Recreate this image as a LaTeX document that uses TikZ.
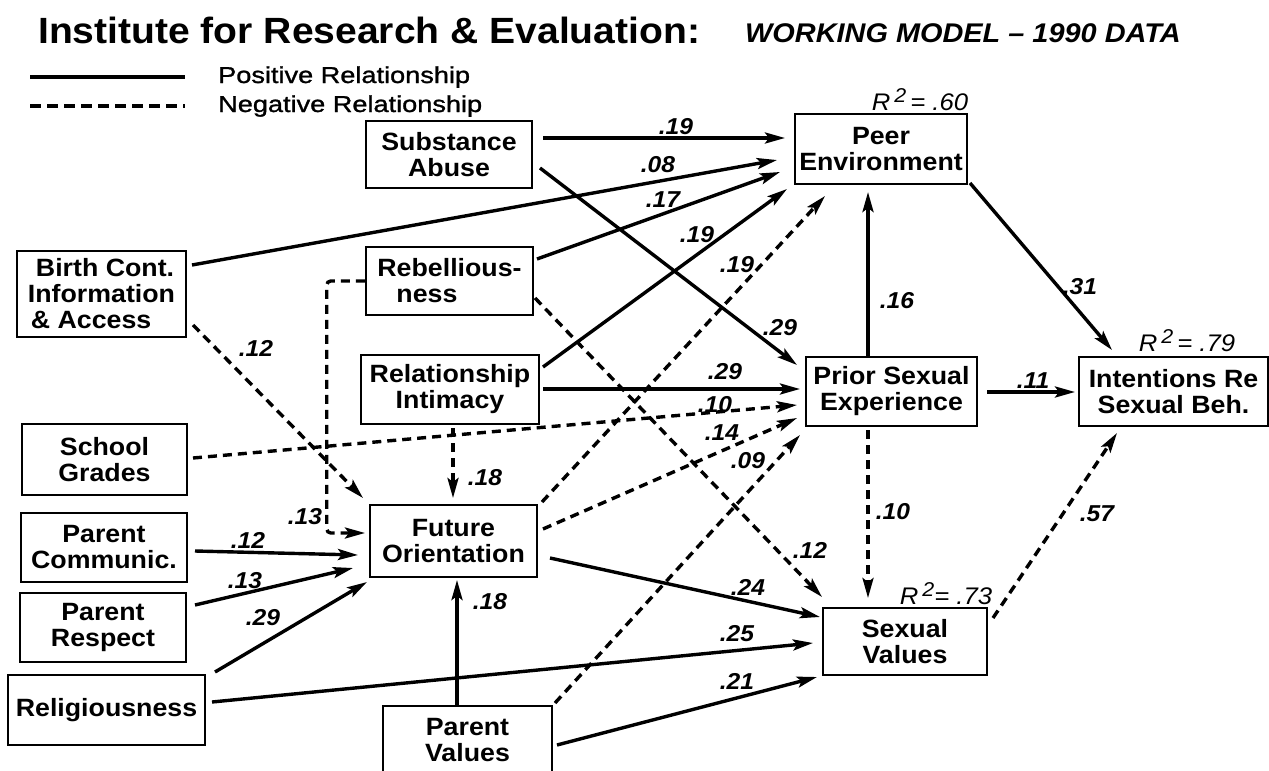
\documentclass[tikz,border=0pt]{standalone}
\usepackage{fontspec}
\usetikzlibrary{arrows.meta,calc}
\newfontfamily\lsans{Liberation Sans}[FakeStretch=1.07]
\newfontfamily\lsanslg{Liberation Sans}[FakeStretch=1.18, FakeBold=1.2]
\begin{document}
\begin{tikzpicture}[x=1pt,y=-1pt,
 box/.style={draw, line width=2.5pt, inner sep=0pt, align=center, font=\lsans\bfseries\fontsize{25}{26}\selectfont},
 posarrow/.style={line width=3.4pt, -{Stealth[length=20pt,width=11pt,inset=4pt]}},
 negarrow/.style={posarrow, dash pattern=on 9pt off 6pt},
 lab/.style={font=\lsans\bfseries\itshape\fontsize{23}{23}\selectfont, inner sep=0pt},
 rsq/.style={font=\lsans\itshape\fontsize{24}{24}\selectfont, inner sep=0pt}]
\useasboundingbox (0,0) rectangle (1269,771);

% title and legend
\node[anchor=base west, inner sep=0pt, font=\lsans\bfseries\fontsize{36.5}{40}\selectfont] (title) at (38,43) {Institute for Research \& Evaluation:};
\node[anchor=base west, inner sep=0pt, font=\lsans\bfseries\itshape\fontsize{27}{30}\selectfont] (sub) at (745,42) {WORKING MODEL \textendash\ 1990 DATA};
\coordinate (ls1) at (30,77); \coordinate (ls2) at (185,77);
\coordinate (ln1) at (30,106); \coordinate (ln2) at (185,106);
\draw[line width=3.4pt] (ls1) -- (ls2);
\draw[line width=3.4pt, dash pattern=on 11pt off 6pt] (ln1) -- (ln2);
\node[anchor=base west, inner sep=0pt, font=\lsanslg\fontsize{23}{24}\selectfont] (lp) at (218,83) {Positive Relationship};
\node[anchor=base west, inner sep=0pt, font=\lsanslg\fontsize{23}{24}\selectfont] (lnn) at (218,112) {Negative Relationship};

% boxes
\node[box, minimum width=166pt, minimum height=67pt] (sa) at (449,154.5) {Substance\\Abuse};
\node[box, minimum width=172pt, minimum height=70pt] (pe) at (881,149) {Peer\\Environment};
\node[box, minimum width=169pt, minimum height=86pt, align=left] (bc) at (101.5,294) {\hspace*{8pt}Birth Cont.\\Information\\\hspace*{3pt}\& Access};
\node[box, minimum width=167pt, minimum height=68pt, align=left] (rb) at (449.5,281) {Rebellious-\\\hspace*{19pt}ness};
\node[box, minimum width=178pt, minimum height=69pt] (ri) at (450,389.5) {Relationship\\Intimacy};
\node[box, minimum width=171pt, minimum height=69pt] (ps) at (891.5,391.5) {Prior Sexual\\Experience};
\node[box, minimum width=189pt, minimum height=69pt] (in) at (1173.5,391.5) {Intentions Re\\Sexual Beh.};
\node[box, minimum width=165pt, minimum height=71pt] (sg) at (104.5,459.5) {School\\Grades};
\node[box, minimum width=167pt, minimum height=72pt] (fo) at (453.5,541) {Future\\Orientation};
\node[box, minimum width=166pt, minimum height=69pt] (pc) at (104,547.5) {Parent\\Communic.};
\node[box, minimum width=166pt, minimum height=69pt] (pr) at (103,627.5) {Parent\\Respect};
\node[box, minimum width=197pt, minimum height=70pt] (re) at (106.5,710) {Religiousness};
\node[box, minimum width=169pt, minimum height=68pt] (pv) at (467.5,740) {Parent\\Values};
\node[box, minimum width=164pt, minimum height=67pt] (sv) at (905,641.5) {Sexual\\Values};

% R squared
\node[rsq] (r60) at (920,100) {R\,\raisebox{8pt}{\fontsize{20}{20}\selectfont 2}\,= .60};
\node[rsq] (r79) at (1187,341) {R\,\raisebox{8pt}{\fontsize{20}{20}\selectfont 2}\,= .79};
\node[rsq] (r73) at (946,594) {R\,\raisebox{8pt}{\fontsize{20}{20}\selectfont 2}= .73};

% connectors
\draw[posarrow] ($(sa)+(94,-16.5)$) -- ($(pe)+(-96,-11)$);
\draw[posarrow] ($(bc)+(90.5,-29)$) -- ($(pe)+(-104,11)$);
\draw[posarrow] ($(rb)+(87.5,-22)$) -- ($(pe)+(-101,23)$);
\draw[posarrow] ($(ri)+(93,-22.5)$) -- ($(pe)+(-94,40)$);
\draw[negarrow] ($(fo)+(88.5,-39)$) -- ($(pe)+(-56,47)$);
\draw[posarrow] ($(sa)+(91,13.5)$) -- ($(ps)+(-94.5,-26.5)$);
\draw[posarrow] ($(ri)+(93,-0.5)$) -- ($(ps)+(-91.5,-2.5)$);
\draw[negarrow] ($(sg)+(88.5,-1.5)$) -- ($(ps)+(-94.5,13.5)$);
\draw[negarrow] ($(fo)+(89.5,-12)$) -- ($(ps)+(-94.5,26.5)$);
\draw[negarrow] ($(pv)+(87.5,-37)$) -- ($(ps)+(-91.5,43.5)$);
\draw[negarrow] ($(rb)+(85.5,17)$) -- ($(sv)+(-83,-44.5)$);
\draw[posarrow] ($(ps)+(-23.5,-34.5)$) -- ($(pe)+(-13,43)$);
\draw[posarrow] ($(pe)+(89,34)$) -- ($(in)+(-61.5,-41.5)$);
\draw[posarrow] ($(ps)+(95.5,0.5)$) -- ($(in)+(-98.5,0.5)$);
\draw[negarrow] ($(ps)+(-23.5,38.5)$) -- ($(sv)+(-37,-43.5)$);
\draw[negarrow] ($(sv)+(88,-23.5)$) -- ($(in)+(-56.5,41.5)$);
\draw[posarrow] ($(fo)+(96.5,17)$) -- ($(sv)+(-85,-24.5)$);
\draw[posarrow] ($(re)+(105.5,-8)$) -- ($(sv)+(-92,1.5)$);
\draw[posarrow] ($(pv)+(89.5,5)$) -- ($(sv)+(-88,35.5)$);
\draw[posarrow] ($(pv)+(-10.5,-34)$) -- ($(fo)+(3.5,39)$);
\draw[negarrow] ($(ri)+(3,38.5)$) -- ($(fo)+(-0.5,-43)$);
\draw[negarrow] ($(bc)+(91.5,31)$) -- ($(fo)+(-90.5,-43)$);
\draw[negarrow, rounded corners=4pt] (rb.west) -- ++(-38,0) |- ($(fo)+(-88.5,-8)$);
\draw[posarrow] ($(pc)+(91,3.5)$) -- ($(fo)+(-95.5,14)$);
\draw[posarrow] ($(pr)+(92,-22.5)$) -- ($(fo)+(-100.5,27)$);
\draw[posarrow] ($(re)+(108.5,-38)$) -- ($(fo)+(-86.5,41)$);

% labels
\node[lab] (l1) at (676,127) {.19};
\node[lab] (l2) at (658,165) {.08};
\node[lab] (l3) at (663,200) {.17};
\node[lab] (l4) at (697,235) {.19};
\node[lab] (l5) at (737,265) {.19};
\node[lab] (l6) at (780,328) {.29};
\node[lab] (l7) at (897,301) {.16};
\node[lab] (l8) at (1080,287) {.31};
\node[lab] (l9) at (725,372) {.29};
\node[lab] (l10) at (715,405) {.10};
\node[lab] (l11) at (722,433) {.14};
\node[lab] (l12) at (748,461) {.09};
\node[lab] (l13) at (1033,381) {.11};
\node[lab] (l14) at (256,348) {.12};
\node[lab] (l15) at (485,478) {.18};
\node[lab] (l16) at (305,517) {.13};
\node[lab] (l17) at (248,540) {.12};
\node[lab] (l18) at (245,581) {.13};
\node[lab] (l19) at (263,618) {.29};
\node[lab] (l20) at (490,602) {.18};
\node[lab] (l21) at (893,512) {.10};
\node[lab] (l22) at (1097,514) {.57};
\node[lab] (l23) at (810,550) {.12};
\node[lab] (l24) at (748,587) {.24};
\node[lab] (l25) at (737,634) {.25};
\node[lab] (l26) at (737,681) {.21};
\end{tikzpicture}
\end{document}
